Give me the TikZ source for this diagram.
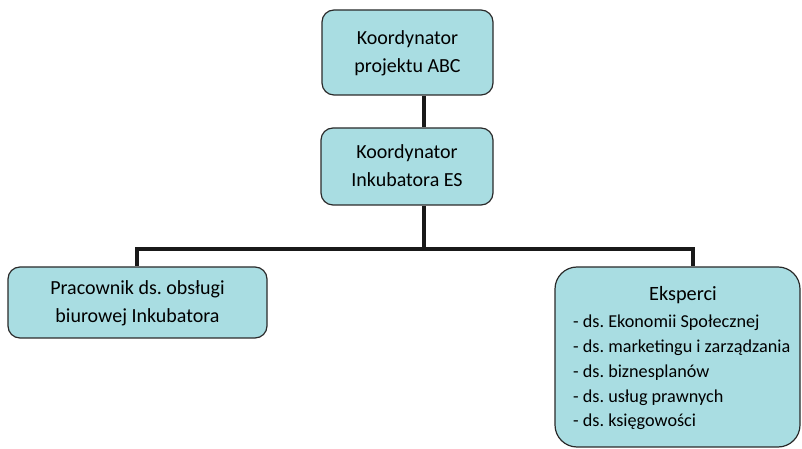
\documentclass[tikz,border=0pt]{standalone}
\usepackage{fontspec}
\setmainfont{Carlito}
\definecolor{boxfill}{HTML}{A9DDE2}
\definecolor{edge}{HTML}{2A2A2A}
\newcommand{\boxtext}[2][0pt]{\raisebox{#1}{\begin{tabular}{@{}c@{}}#2\end{tabular}}}
\begin{document}
\frenchspacing
\begin{tikzpicture}[x=1pt,y=1pt]
\tikzset{
  orgbox/.style={draw=edge, line width=1.2pt, fill=boxfill, rounded corners=12pt, inner sep=0pt, align=center, font=\fontsize{20}{28}\selectfont\frenchspacing},
  conn/.style={line width=3.8pt, draw=black!90},
  txt/.style={inner sep=0pt, font=\fontsize{18.2}{24.8}\selectfont\frenchspacing}
}
\useasboundingbox (0,0) rectangle (802,449);
% boxes
\node[orgbox, minimum width=171, minimum height=85] (b1) at (407.5,396.5) {\boxtext[4pt]{Koordynator\\projektu ABC}};
\node[orgbox, minimum width=172, minimum height=77] (b2) at (407,282.5) {\boxtext[3pt]{Koordynator\\Inkubatora ES}};
\node[orgbox, minimum width=259, minimum height=71] (lb) at (137.5,146.5) {\boxtext{Pracownik ds. obsługi\\biurowej Inkubatora}};
\node[orgbox, minimum width=245, minimum height=180, rounded corners=22pt] (rb) at (677.5,92) {};
\node[txt, anchor=base, font=\fontsize{20.3}{25}\selectfont] (rt) at (683,148) {Eksperci};
\node[txt, anchor=base west, align=left] (rl) at (573,22) {- ds. Ekonomii Społecznej\\- ds. marketingu i zarządzania\\- ds. biznesplanów\\- ds. usług prawnych\\- ds. księgowości};
% connectors
\coordinate (jc) at (424,200);
\coordinate (jl) at (137,200);
\coordinate (jr) at (693,200);
\draw[conn] (b1.south -| jc) -- (b2.north -| jc);
\draw[conn] (b2.south -| jc) -- (jc);
\draw[conn, line cap=rect] (jl) -- (jr);
\draw[conn] (jl) -- (lb.north -| jl);
\draw[conn] (jr) -- (rb.north -| jr);
\end{tikzpicture}
\end{document}
